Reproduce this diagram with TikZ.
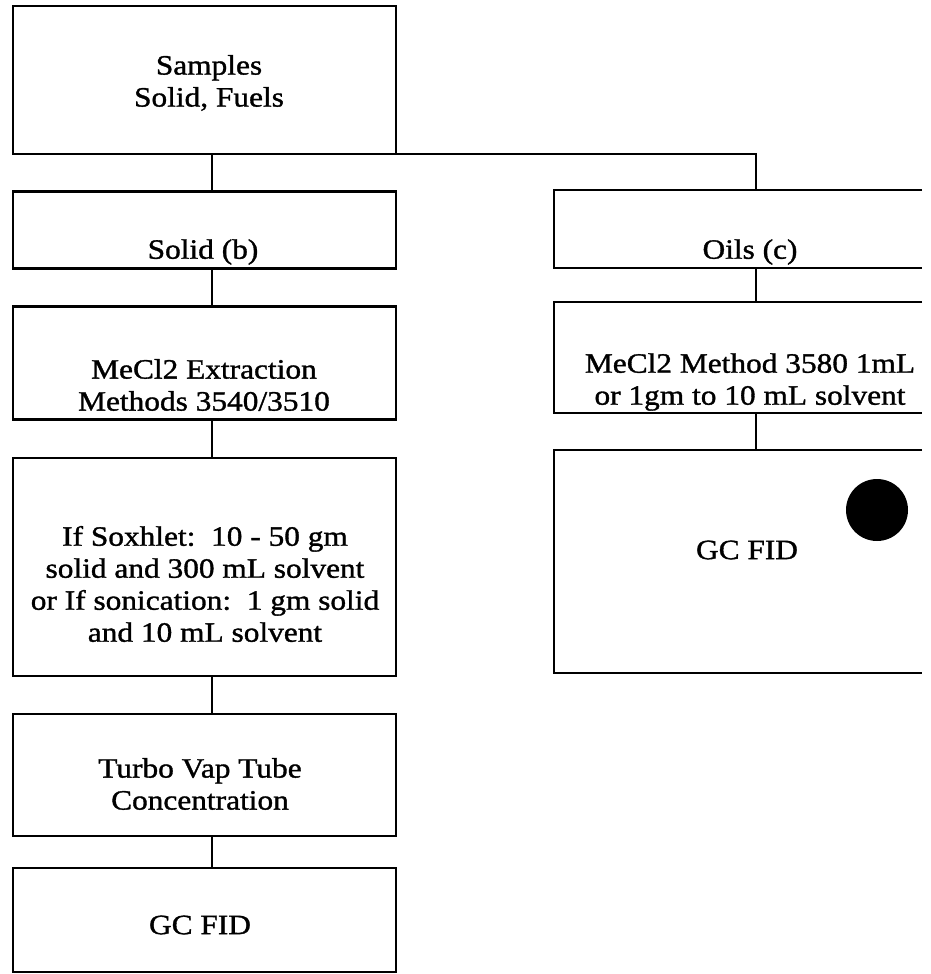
\documentclass[tikz,border=0pt]{standalone}
\usepackage{fontspec}
\setmainfont{Liberation Serif}[FakeStretch=1.12,FakeBold=1.2]
\begin{document}
\begin{tikzpicture}[x=1pt,y=-1pt,
  line width=2.4pt,
  box/.style={draw, rectangle, inner sep=0pt, outer sep=0pt},
  openbox/.style={rectangle, inner sep=0pt, outer sep=0pt},
  txt/.style={align=center, inner sep=0pt, font=\fontsize{28}{32}\selectfont},
  dotmark/.style={circle, fill=black, inner sep=0pt, minimum size=62pt}
]
\useasboundingbox (0,0) rectangle (930,974);
% left column boxes
\node[box, minimum width=383pt, minimum height=148pt] (top) at (204.5,80) {};
\node[box, minimum width=383pt, minimum height=77pt] (solid) at (204.5,230) {};
\node[box, minimum width=383pt, minimum height=113pt] (meL) at (204.5,363) {};
\node[box, minimum width=383pt, minimum height=218pt] (sox) at (204.5,567) {};
\node[box, minimum width=383pt, minimum height=122pt] (turbo) at (204.5,775) {};
\node[box, minimum width=383pt, minimum height=104pt] (gcL) at (204.5,920) {};
% right column boxes (open on the right)
\node[openbox, minimum width=368pt, minimum height=78pt] (oils) at (738,229) {};
\node[openbox, minimum width=368pt, minimum height=111pt] (meR) at (738,357.5) {};
\node[openbox, minimum width=368pt, minimum height=223pt] (gcR) at (738,561.5) {};
\foreach \b in {oils,meR,gcR}{
  \draw (\b.north east) -- (\b.north west) -- (\b.south west) -- (\b.south east);
}
% texts
\node[txt] (tTop) at (209,83) {Samples\\Solid, Fuels};
\node[txt] (tSolid) at (203,252) {Solid (b)};
\node[txt] (tOils) at (750,252) {Oils (c)};
\node[txt] (tMeL) at (204,385) {MeCl2 Extraction\\Methods 3540/3510};
\node[txt] (tMeR) at (750,382) {MeCl2 Method 3580 1mL\\or 1gm to 10 mL solvent};
\node[txt] (tSox) at (205,584) {If Soxhlet:\ \ 10 - 50 gm\\solid and 300 mL solvent\\or If sonication:\ \ 1 gm solid\\and 10 mL solvent};
\node[txt] (tTurbo) at (200,784) {Turbo Vap Tube\\Concentration};
\node[txt] (tGcL) at (200,925) {GC FID};
\node[txt] (tGcR) at (747,550) {GC FID};
\node[dotmark] (dot) at (877,510) {};
% connectors
\draw ([xshift=7.5pt]top.south) -- ([xshift=7.5pt]solid.north);
\draw (top.south east) -| ([xshift=18pt]oils.north);
\draw ([xshift=7.5pt]solid.south) -- ([xshift=7.5pt]meL.north);
\draw ([xshift=18pt]oils.south) -- ([xshift=18pt]meR.north);
\draw ([xshift=7.5pt]meL.south) -- ([xshift=7.5pt]sox.north);
\draw ([xshift=18pt]meR.south) -- ([xshift=18pt]gcR.north);
\draw ([xshift=7.5pt]sox.south) -- ([xshift=7.5pt]turbo.north);
\draw ([xshift=7.5pt]turbo.south) -- ([xshift=7.5pt]gcL.north);
\end{tikzpicture}
\end{document}
